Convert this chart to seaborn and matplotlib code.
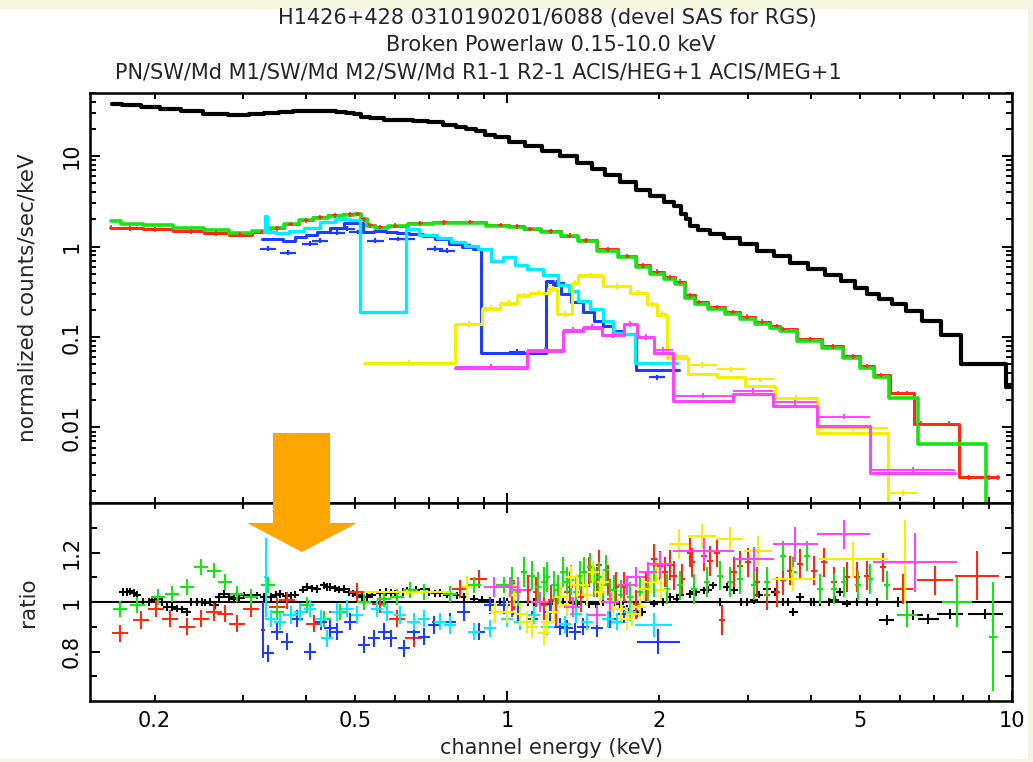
import numpy as np
import matplotlib
matplotlib.use("Agg")
import matplotlib.pyplot as plt
from matplotlib.patches import Polygon, Rectangle
from matplotlib.ticker import FixedLocator, FixedFormatter, NullFormatter, FuncFormatter
import seaborn as sns

sns.set_theme(style="ticks")
plt.rcParams["font.family"] = ["DejaVu Sans"]

# instrument colours (xspec order)
c_pn, c_m1, c_m2 = "#000000", "#ff2a12", "#14e614"
c_r1, c_r2 = "#1e3cff", "#00eeff"
c_heg, c_meg = "#f5ef00", "#ff44ff"

# ---- upper panel: folded model, normalized counts/sec/keV ----
pn_E = [0.165, 0.18, 0.196, 0.215, 0.236, 0.264, 0.296, 0.32, 0.34, 0.365, 0.389, 0.415, 0.446, 0.47, 0.489,
        0.505, 0.52, 0.55, 0.587, 0.63, 0.672, 0.72, 0.771, 0.81, 0.845, 0.885, 0.925, 0.97, 1.047, 1.12,
        1.22, 1.32, 1.43, 1.52, 1.61, 1.73, 1.86, 1.98, 2.10, 2.18, 2.24, 2.28, 2.32, 2.45, 2.6,
        2.78, 3.0, 3.24, 3.5, 3.78, 4.1, 4.42, 4.75, 5.02, 5.3, 5.6, 5.95, 6.38, 6.9, 7.55, 8.3, 9.1, 9.6, 9.9]
pn_val = [38.2, 37.0, 35.4, 33.5, 31.9, 29.6, 28.8, 29.5, 30.3, 31.0, 31.9, 32.0, 31.9, 31.2, 30.3,
          29.0, 27.3, 26.2, 25.4, 25.0, 24.8, 23.8, 22.4, 21.2, 20.1, 18.8, 17.3, 16.4, 14.5, 13.0,
          11.5, 10.0, 8.5, 7.3, 6.25, 5.2, 4.27, 3.6, 3.15, 2.8, 2.32, 2.0, 1.71, 1.54, 1.38,
          1.23, 1.06, 0.90, 0.78, 0.665, 0.57, 0.49, 0.42, 0.352, 0.30, 0.266, 0.234, 0.196, 0.152, 0.104,
          0.050, 0.050, 0.050, 0.028]

m2_E = [0.164, 0.179, 0.2, 0.236, 0.265, 0.296, 0.327, 0.35, 0.372, 0.40, 0.426, 0.455, 0.489, 0.505, 0.52,
        0.535, 0.56, 0.6, 0.672, 0.75, 0.845, 0.97, 1.047, 1.11, 1.22, 1.33, 1.43, 1.58, 1.73, 1.86,
        1.98, 2.10, 2.20, 2.30, 2.40, 2.60, 2.80, 2.99, 3.2, 3.42, 3.52, 3.98, 4.42, 4.85, 5.16,
        5.5, 5.9, 6.3, 6.7, 7.5, 8.5, 9.3, 9.5]
m2_val = [1.94, 1.80, 1.72, 1.62, 1.52, 1.43, 1.50, 1.62, 1.80, 1.95, 2.09, 2.20, 2.26, 2.32, 2.0,
          1.71, 1.62, 1.68, 1.80, 1.84, 1.84, 1.70, 1.66, 1.55, 1.45, 1.30, 1.16, 0.90, 0.76, 0.59,
          0.50, 0.44, 0.39, 0.27, 0.234, 0.206, 0.18, 0.16, 0.14, 0.127, 0.118, 0.091, 0.076, 0.058, 0.046,
          0.036, 0.021, 0.021, 0.0066, 0.0066, 0.0066, 0.0012, 0.0012]

m1_E = [0.164, 0.179, 0.2, 0.236, 0.265, 0.296, 0.327, 0.35, 0.372, 0.40, 0.426, 0.455, 0.489, 0.505, 0.52,
        0.535, 0.56, 0.6, 0.672, 0.75, 0.845, 0.97, 1.047, 1.11, 1.22, 1.33, 1.43, 1.58, 1.73, 1.86,
        1.98, 2.10, 2.20, 2.30, 2.40, 2.60, 2.80, 2.99, 3.2, 3.42, 3.52, 3.98, 4.42, 4.85, 5.16,
        5.5, 5.95, 6.2, 6.6, 7.5, 8.2, 9.0, 9.38]
m1_val = [1.62, 1.60, 1.55, 1.48, 1.40, 1.36, 1.45, 1.60, 1.78, 1.95, 2.10, 2.22, 2.28, 2.30, 2.0,
          1.72, 1.65, 1.70, 1.82, 1.86, 1.88, 1.74, 1.68, 1.57, 1.47, 1.32, 1.18, 0.93, 0.79, 0.62,
          0.53, 0.46, 0.41, 0.29, 0.245, 0.215, 0.19, 0.168, 0.148, 0.133, 0.123, 0.095, 0.079, 0.061, 0.048,
          0.038, 0.024, 0.024, 0.011, 0.011, 0.0028, 0.0028, 0.0028]

r1_E = [0.327, 0.35, 0.37, 0.39, 0.41, 0.43, 0.46, 0.49, 0.505, 0.53, 0.56, 0.59, 0.62, 0.66, 0.70,
        0.74, 0.79, 0.84, 0.87, 0.90, 1.0, 1.1, 1.18, 1.21, 1.25, 1.31, 1.37, 1.45, 1.52, 1.58,
        1.66, 1.75, 1.85, 2.0, 2.19]
r1_val = [1.2, 1.2, 1.15, 1.28, 1.35, 1.45, 1.62, 1.84, 1.84, 1.45, 1.5, 1.45, 1.4, 1.38, 1.32,
          1.2, 1.08, 1.0, 0.95, 0.067, 0.067, 0.067, 0.067, 0.42, 0.38, 0.30, 0.246, 0.19, 0.15, 0.134,
          0.118, 0.109, 0.043, 0.043, 0.043]
r1_dat_E = [0.336, 0.367, 0.407, 0.426, 0.46, 0.482, 0.505, 0.548, 0.606, 0.634, 0.72, 0.76, 0.818, 1.047, 1.256, 1.98]
r1_dat = [0.95, 0.86, 1.08, 1.16, 1.43, 1.58, 1.45, 1.16, 1.22, 1.22, 0.95, 0.90, 1.05, 0.069, 0.40, 0.036]

r2_E = [0.330, 0.333, 0.336, 0.36, 0.38, 0.41, 0.44, 0.47, 0.50, 0.52, 0.56, 0.60, 0.625, 0.635, 0.70,
        0.75, 0.80, 0.85, 0.90, 0.955, 1.01, 1.06, 1.13, 1.22, 1.30, 1.35, 1.41, 1.51, 1.58, 1.66,
        1.75, 1.83, 2.0, 2.17]
r2_val = [1.45, 2.2, 1.45, 1.42, 1.5, 1.6, 1.85, 2.0, 1.95, 0.187, 0.187, 0.187, 0.187, 1.58, 1.35,
          1.25, 1.12, 1.02, 0.95, 0.70, 0.76, 0.62, 0.57, 0.48, 0.38, 0.326, 0.253, 0.206, 0.152, 0.112,
          0.109, 0.051, 0.051, 0.051]

heg_edges = [0.519, 0.789, 0.892, 0.969, 1.047, 1.11, 1.206, 1.256, 1.345, 1.382, 1.55, 1.75, 1.89, 1.98,
             2.07, 2.28, 2.60, 2.96, 3.39, 4.11, 5.68, 6.51]
heg_model = [0.051, 0.141, 0.206, 0.234, 0.287, 0.31, 0.34, 0.182, 0.40, 0.478, 0.37, 0.31, 0.234, 0.177,
             0.059, 0.039, 0.036, 0.029, 0.021, 0.0086, 0.0015]
heg_data = [0.052, 0.14, 0.21, 0.24, 0.29, 0.31, 0.34, 0.18, 0.40, 0.48, 0.37, 0.31, 0.23, 0.18,
            0.062, 0.049, 0.044, 0.034, 0.0213, 0.0098, 0.0019]

meg_edges = [0.789, 1.095, 1.29, 1.41, 1.54, 1.70, 1.81, 1.95, 2.13, 2.80, 3.36, 4.11, 5.24, 7.70]
meg_model = [0.046, 0.0708, 0.118, 0.127, 0.104, 0.141, 0.099, 0.066, 0.0198, 0.0237, 0.0174, 0.0105, 0.0031]
meg_data = [0.047, 0.072, 0.12, 0.13, 0.105, 0.14, 0.10, 0.072, 0.0225, 0.0255, 0.0189, 0.0132, 0.0034]

# ---- lower panel: data/model ratio ----
pn_rE = [0.173, 0.179, 0.182, 0.190, 0.203, 0.212, 0.222, 0.232, 0.236, 0.243, 0.252, 0.264, 0.274, 0.287, 0.301,
         0.319, 0.340, 0.355, 0.372, 0.401, 0.420, 0.433, 0.446, 0.474, 0.504, 0.527, 0.560, 0.587, 0.633, 0.683,
         0.737, 0.795, 0.858, 0.925, 0.969, 1.127, 1.217, 1.374, 1.624, 1.726, 1.806, 1.949, 2.039, 2.168, 2.30,
         2.45, 2.56, 2.64, 2.72, 2.81, 2.98, 3.08, 3.27, 3.39, 3.52, 3.69, 3.80, 4.05, 4.17, 4.33,
         4.56, 4.70, 4.93, 5.16, 5.40, 1.05, 1.18, 1.29, 1.45, 1.55,
         0.176, 0.185, 0.195, 0.198, 0.207, 0.217, 0.227, 0.248, 0.258, 0.269, 0.281, 0.294, 0.31, 0.33,
         0.348, 0.364, 0.38, 0.393, 0.41, 0.44, 0.455, 0.465, 0.485, 0.495, 0.515, 0.54, 0.575, 0.6,
         0.62, 0.66, 0.7, 0.72, 0.76, 0.82, 0.89, 1.0, 1.1, 1.25, 1.35, 1.5, 1.67, 1.76, 1.85,
         2.1, 2.2, 2.36, 2.5, 2.9, 3.15, 3.6, 4.0, 4.45]
pn_rR = [1.04, 1.043, 1.037, 1.0, 1.011, 0.98, 0.973, 0.96, 1.0, 1.0, 0.997, 0.987, 1.033, 1.013, 1.027,
         1.027, 1.02, 1.033, 1.027, 1.06, 1.053, 1.067, 1.06, 1.053, 1.027, 1.02, 1.037, 1.037, 1.047, 1.051,
         1.037, 1.027, 1.013, 1.007, 1.0, 1.0, 0.993, 0.993, 1.0, 0.973, 0.953, 0.993, 1.0, 1.013, 1.033,
         1.047, 1.067, 1.0, 1.06, 1.047, 1.0, 1.007, 1.053, 1.04, 1.0, 0.96, 1.02, 1.0, 1.0, 1.0,
         1.04, 0.993, 1.0, 1.0, 1.0, 1.0, 0.993, 1.0, 0.99, 1.0,
         1.04, 1.03, 1.0, 1.01, 1.0, 0.98, 0.97, 1.0, 1.0, 1.02, 1.02, 1.015, 1.03, 1.02,
         1.03, 1.025, 1.03, 1.05, 1.055, 1.06, 1.055, 1.05, 1.04, 1.035, 1.02, 1.03, 1.04, 1.035,
         1.04, 1.05, 1.04, 1.035, 1.03, 1.02, 1.01, 1.0, 1.0, 1.0, 0.99, 0.99, 0.99, 0.965, 0.96,
         1.02, 1.03, 1.04, 1.05, 1.0, 1.03, 1.0, 1.0, 1.01]
pn_wE = [5.65, 5.95, 6.38, 6.83, 7.54, 8.85]
pn_wR = [0.927, 1.0, 0.947, 0.933, 0.953, 0.953]
pn_wdx = [0.015, 0.015, 0.018, 0.02, 0.025, 0.035]
pn_wdy = [0.02, 0.02, 0.02, 0.02, 0.02, 0.02]

m1_rE = [0.171, 0.188, 0.201, 0.215, 0.232, 0.247, 0.262, 0.276, 0.291, 0.310, 0.350, 0.366, 0.414, 0.460, 0.504,
         0.560, 0.605, 0.652, 0.737, 0.807, 0.877, 1.029, 1.18, 1.313, 1.505, 1.599, 1.949, 2.008, 2.135, 2.22,
         2.32, 2.45, 2.52, 2.60, 2.66, 2.81, 2.89, 3.00, 3.12, 3.27, 3.42, 3.52, 3.63, 3.80, 4.05,
         4.24, 4.43, 4.70, 4.93, 5.16, 5.56, 1.10, 1.25, 1.40, 1.70, 1.80,
         1.02, 1.14, 1.22, 1.33, 1.45, 1.52, 1.58, 1.64, 1.75, 1.88, 2.05, 2.1, 2.3]
m1_rR = [0.873, 0.927, 0.973, 0.933, 0.90, 0.933, 0.96, 0.953, 0.913, 0.973, 0.98, 1.007, 0.913, 0.96, 1.04,
         0.99, 0.933, 0.853, 0.92, 1.053, 1.093, 1.027, 0.987, 1.04, 1.08, 1.013, 1.173, 1.147, 1.107, 1.093,
         1.16, 1.187, 1.167, 1.2, 0.927, 1.12, 1.147, 1.16, 1.08, 1.027, 1.04, 1.087, 1.127, 1.153, 1.127,
         1.16, 1.08, 1.10, 1.10, 1.107, 1.14, 1.05, 0.96, 1.02, 1.06, 0.99,
         1.0, 1.04, 1.01, 1.06, 1.12, 1.15, 1.09, 1.06, 1.0, 1.06, 1.12, 1.15, 1.2]
m1_wE = [6.09, 7.04, 8.52]
m1_wR = [1.053, 1.087, 1.107]
m1_wdx = [0.02, 0.036, 0.043]
m1_wdy = [0.06, 0.06, 0.1]

m2_rE = [0.171, 0.185, 0.203, 0.217, 0.232, 0.247, 0.262, 0.276, 0.291, 0.310, 0.335, 0.350, 0.372, 0.401, 0.433,
         0.467, 0.520, 0.569, 0.605, 0.643, 0.683, 0.771, 0.858, 0.983, 1.119, 1.18, 1.235, 1.313, 1.395, 1.482,
         1.551, 1.599, 1.835, 2.070, 2.20, 2.34, 2.49, 2.64, 2.76, 2.89, 3.08, 3.27, 3.52, 3.69, 3.92,
         4.17, 4.43, 4.64, 4.96, 5.24, 5.65,
         1.02, 1.05, 1.08, 1.15, 1.2, 1.26, 1.29, 1.34, 1.37, 1.42, 1.46, 1.52, 1.57, 1.63, 1.68, 1.75, 1.9, 1.95]
m2_rR = [0.973, 0.987, 1.02, 1.033, 1.06, 1.14, 1.127, 1.08, 1.033, 1.02, 1.067, 0.96, 0.947, 0.987, 0.933,
         0.96, 1.0, 1.013, 1.02, 1.047, 1.04, 1.033, 1.067, 1.067, 1.107, 1.08, 1.067, 1.08, 1.107, 1.08,
         1.067, 1.027, 1.04, 1.053, 1.067, 1.053, 1.08, 1.107, 1.08, 1.093, 1.067, 1.08, 1.187, 1.12, 1.187,
         1.053, 1.053, 1.08, 1.067, 1.093, 1.067,
         1.08, 1.04, 1.12, 1.06, 1.1, 1.05, 1.12, 1.09, 1.04, 1.12, 1.14, 1.1, 1.13, 1.05, 1.03, 1.02, 1.06, 1.08]
m2_wE = [6.19, 7.78, 9.17]
m2_wR = [0.947, 1.0, 0.86]
m2_wdx = [0.02, 0.03, 0.008]
m2_wdy = [0.05, 0.1, 0.22]

r1_rE = [0.335, 0.350, 0.366, 0.383, 0.407, 0.427, 0.446, 0.460, 0.489, 0.520, 0.544, 0.569, 0.587, 0.624,
         0.652, 0.683, 0.715, 0.771, 0.819, 0.877, 0.925, 0.983, 1.217, 1.313, 1.505,
         1.05, 1.12, 1.27, 1.36, 1.41, 1.6, 1.7]
r1_rR = [0.793, 0.88, 0.84, 0.933, 0.80, 0.92, 0.893, 0.88, 0.92, 0.827, 0.853, 0.88, 0.853, 0.813,
         0.88, 0.86, 0.907, 0.92, 0.96, 0.88, 0.987, 0.987, 0.96, 0.893, 0.893,
         0.95, 0.93, 0.9, 0.88, 0.9, 0.93, 0.95]
r1_wE = [0.328, 1.993]
r1_wR = [0.887, 0.84]
r1_wdx = [0.004, 0.043]
r1_wdy = [0.113, 0.05]

r2_rE = [0.340, 0.355, 0.372, 0.389, 0.407, 0.427, 0.440, 0.460, 0.482, 0.504, 0.552, 0.578, 0.614, 0.652,
         0.683, 0.737, 0.771, 0.858, 0.925, 0.999, 1.061, 1.127, 1.438, 1.505,
         1.2, 1.3, 1.37, 1.58, 1.65, 1.75]
r2_rR = [0.933, 0.92, 0.947, 0.96, 0.973, 0.933, 0.853, 0.96, 0.973, 0.947, 0.973, 0.96, 0.947, 0.92,
         0.933, 0.92, 0.907, 0.88, 0.893, 0.933, 0.92, 0.947, 0.92, 0.947,
         0.9, 0.91, 0.95, 0.93, 0.92, 0.96]
r2_wE = [0.332, 1.949]
r2_wR = [1.10, 0.907]
r2_wdx = [0.003, 0.036]
r2_wdy = [0.16, 0.05]

heg_rE = [0.832, 0.947, 1.029, 1.094, 1.18, 1.235, 1.313, 1.374, 1.438, 1.528, 1.726, 1.863,
          1.0, 1.06, 1.12, 1.2, 1.27, 1.34, 1.41, 1.48, 1.55, 1.62, 1.68, 1.77, 1.83, 1.92, 1.97, 2.02]
heg_rR = [1.06, 0.96, 1.027, 0.92, 0.873, 0.96, 0.987, 1.067, 1.027, 1.04, 0.933, 1.053,
          0.96, 0.95, 0.9, 0.92, 1.02, 1.1, 1.07, 1.12, 1.08, 1.0, 0.97, 0.95, 0.98, 1.08, 1.12, 1.05]
heg_wE = [0.633, 2.185, 2.43, 2.76, 3.14, 3.69, 4.85, 6.14]
heg_wR = [1.04, 1.233, 1.267, 1.253, 1.207, 1.093, 1.173, 1.16]
heg_wdx = [0.0855, 0.02, 0.027, 0.027, 0.027, 0.043, 0.069, 0.04]
heg_wdy = [0.01, 0.06, 0.05, 0.05, 0.06, 0.05, 0.07, 0.17]

meg_rE = [0.939, 1.014, 1.162, 1.505, 1.726, 1.05, 1.35, 1.6, 1.8, 1.9]
meg_rR = [1.06, 1.06, 1.0, 0.947, 1.067, 1.05, 0.98, 1.0, 1.1, 1.12]
meg_wE = [2.008, 2.45, 3.08, 3.72, 4.64, 6.43]
meg_wR = [1.153, 1.207, 1.173, 1.233, 1.273, 1.16]
meg_wdx = [0.023, 0.06, 0.04, 0.045, 0.053, 0.083]
meg_wdy = [0.05, 0.05, 0.05, 0.07, 0.06, 0.12]

titles = ["H1426+428 0310190201/6088 (devel SAS for RGS)",
          "Broken Powerlaw 0.15-10.0 keV",
          "PN/SW/Md M1/SW/Md M2/SW/Md R1-1 R2-1 ACIS/HEG+1 ACIS/MEG+1"]


def xerr_dex(E, w):
    E = np.asarray(E, float)
    f = 10 ** np.asarray(w, float)
    return [E - E / f, E * f - E]


def model_steps(ax, E, v, color, lw=2.2):
    sns.lineplot(x=E, y=v, ax=ax, color=color, linewidth=lw, drawstyle="steps-mid",
                 estimator=None, sort=False, errorbar=None, legend=False)


def model_bins(ax, edges, v, data, color, lw=2.2):
    sns.lineplot(x=edges, y=list(v) + [v[-1]], ax=ax, color=color, linewidth=lw,
                 drawstyle="steps-post", estimator=None, sort=False, errorbar=None, legend=False)
    lo, hi = np.array(edges[:-1]), np.array(edges[1:])
    mid = np.sqrt(lo * hi)
    d = np.array(data)
    ax.errorbar(mid, d, xerr=[mid - lo, hi - mid], yerr=0.07 * d, fmt="none",
                ecolor=color, elinewidth=1.4)


def crosses(ax, E, R, color, dx, dy, lw=1.5):
    ax.errorbar(E, R, xerr=xerr_dex(E, dx), yerr=dy, fmt="none", ecolor=color, elinewidth=lw)


W, H = 1033, 762
fig = plt.figure(figsize=(W / 100, H / 100), dpi=100, facecolor="#f6f5de")
fig.add_artist(Rectangle((0, 3 / H), 1028 / W, 750 / H, transform=fig.transFigure,
                         facecolor="white", edgecolor="none", zorder=-5))

ax1 = fig.add_axes([90 / W, 1 - 503 / H, 922 / W, 410 / H])
ax2 = fig.add_axes([90 / W, 1 - 701 / H, 922 / W, 198 / H], sharex=ax1)
ax1.set_xscale("log")
ax1.set_yscale("log")

# upper panel
model_steps(ax1, pn_E, pn_val, c_pn, lw=3.0)
model_steps(ax1, m1_E, m1_val, c_m1)
model_steps(ax1, m2_E, m2_val, c_m2, lw=2.6)
ax1.errorbar(m1_E, m1_val, xerr=xerr_dex(m1_E, 0.005), yerr=0.06 * np.array(m1_val),
             fmt="none", ecolor=c_m1, elinewidth=1.2)
model_steps(ax1, r1_E, r1_val, c_r1)
ax1.errorbar(r1_dat_E, r1_dat, xerr=xerr_dex(r1_dat_E, 0.016), yerr=0.06 * np.array(r1_dat),
             fmt="none", ecolor=c_r1, elinewidth=1.6)
model_steps(ax1, r2_E, r2_val, c_r2, lw=2.4)
model_bins(ax1, heg_edges, heg_model, heg_data, c_heg)
model_bins(ax1, meg_edges, meg_model, meg_data, c_meg)

# lower panel
ax2.axhline(1.0, color="black", lw=1.5, zorder=1)
crosses(ax2, pn_rE, pn_rR, c_pn, 0.008, 0.015)
crosses(ax2, pn_wE, pn_wR, c_pn, pn_wdx, pn_wdy)
m1a = np.array(m1_rE)
crosses(ax2, m1_rE, m1_rR, c_m1, np.where(m1a < 1, 0.016, 0.006), np.where(m1a < 1, 0.035, 0.06))
crosses(ax2, m1_wE, m1_wR, c_m1, m1_wdx, m1_wdy)
m2a = np.array(m2_rE)
crosses(ax2, m2_rE, m2_rR, c_m2, np.where(m2a < 1, 0.014, 0.006), np.where(m2a < 1, 0.032, 0.06))
crosses(ax2, m2_wE, m2_wR, c_m2, m2_wdx, m2_wdy)
crosses(ax2, r1_rE, r1_rR, c_r1, 0.012, 0.035)
crosses(ax2, r1_wE, r1_wR, c_r1, r1_wdx, r1_wdy)
crosses(ax2, r2_rE, r2_rR, c_r2, 0.012, 0.035)
crosses(ax2, r2_wE, r2_wR, c_r2, r2_wdx, r2_wdy)
crosses(ax2, heg_rE, heg_rR, c_heg, 0.012, 0.045)
crosses(ax2, heg_wE, heg_wR, c_heg, heg_wdx, heg_wdy)
crosses(ax2, meg_rE, meg_rR, c_meg, 0.018, 0.04)
crosses(ax2, meg_wE, meg_wR, c_meg, meg_wdx, meg_wdy)

ax1.set_xlim(0.149, 10)
ax1.set_ylim(0.00146, 50)
ax2.set_ylim(0.6, 1.4)

for ax in (ax1, ax2):
    ax.set_xlabel("")
    ax.set_ylabel("")
    ax.set_facecolor("white")
    ax.tick_params(which="both", direction="in", top=True, right=True, width=1.4,
                   color="black", labelcolor="black", labelsize=15)
    ax.tick_params(which="major", length=7)
    ax.tick_params(which="minor", length=4)
    for s in ax.spines.values():
        s.set_linewidth(1.8)
        s.set_color("black")

ax2.xaxis.set_major_locator(FixedLocator([1, 10]))
ax2.xaxis.set_major_formatter(FixedFormatter(["1", "10"]))
ax2.xaxis.set_minor_locator(FixedLocator([0.2, 0.3, 0.4, 0.5, 0.6, 0.7, 0.8, 0.9, 2, 3, 4, 5, 6, 7, 8, 9]))
ax2.xaxis.set_minor_formatter(FuncFormatter(lambda v, p: f"{v:g}" if f"{v:g}" in ("0.2", "0.5", "2", "5") else ""))
ax1.tick_params(axis="x", which="both", labelbottom=False)
ax2.tick_params(axis="x", which="both", pad=7, labelsize=15)

ax1.yaxis.set_major_locator(FixedLocator([0.01, 0.1, 1, 10]))
ax1.yaxis.set_major_formatter(FixedFormatter(["0.01", "0.1", "1", "10"]))
ax1.yaxis.set_minor_locator(FixedLocator([m * d for d in (0.001, 0.01, 0.1, 1, 10) for m in range(2, 10)]))
ax1.yaxis.set_minor_formatter(NullFormatter())

ax2.yaxis.set_major_locator(FixedLocator([0.8, 1.0, 1.2]))
ax2.yaxis.set_major_formatter(FixedFormatter(["0.8", "1", "1.2"]))
ax2.yaxis.set_minor_locator(FixedLocator([0.7, 0.9, 1.1, 1.3]))
ax2.yaxis.set_minor_formatter(NullFormatter())
ax2.tick_params(axis="y", which="minor", length=5)

for ax in (ax1, ax2):
    ax.tick_params(axis="y", labelrotation=90, pad=6)
    for lbl in ax.get_yticklabels():
        lbl.set_va("center")

fig.text(547 / W, 1 - 18 / H, titles[0], ha="center", va="center", fontsize=15)
fig.text(551 / W, 1 - 45 / H, titles[1], ha="center", va="center", fontsize=15)
fig.text(478 / W, 1 - 72 / H, titles[2], ha="center", va="center", fontsize=15)
fig.text(28 / W, 1 - 298 / H, "normalized counts/sec/keV", rotation=90, ha="center", va="center", fontsize=15.5)
fig.text(28 / W, 1 - 602 / H, "ratio", rotation=90, ha="center", va="center", fontsize=15.5)
fig.text(552 / W, 1 - 748 / H, "channel energy (keV)", ha="center", va="center", fontsize=15)

# orange block arrow pointing at the low-energy ratio residuals
arrow_px = [(273, 433), (330, 433), (330, 523), (357, 523), (302, 552), (247, 523), (273, 523)]
fig.add_artist(Polygon([(x / W, 1 - y / H) for x, y in arrow_px], closed=True, transform=fig.transFigure,
                       facecolor="#ffa500", edgecolor="none", zorder=10))

fig.savefig("out.png", dpi=100, facecolor=fig.get_facecolor())
